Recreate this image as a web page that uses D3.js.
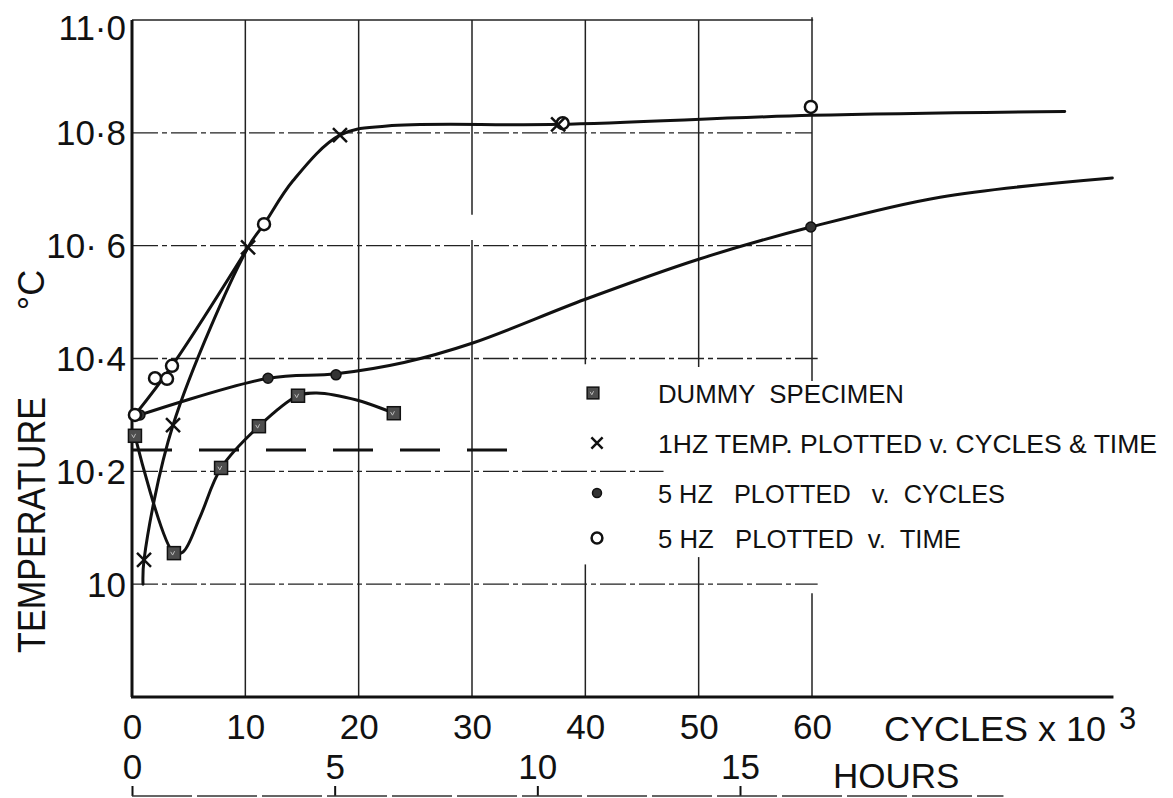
<!DOCTYPE html>
<html>
<head>
<meta charset="utf-8">
<script src="https://cdn.jsdelivr.net/npm/d3@7"></script>
<style>
  html, body { margin: 0; padding: 0; background: #fff; }
  svg { display: block; }
  text { font-family: "Liberation Sans", Arial, sans-serif; fill: #111; }
</style>
</head>
<body>
<svg id="chart" width="1173" height="798"></svg>
<script>
// Temperature of specimens under cyclic loading, plotted against cycles (x10^3) and hours.

// ---- axis ticks ----
const cycleTicks = [0, 10, 20, 30, 40, 50, 60];
const hourTicks = [0, 5, 10, 15];
const tempTicks = [10.0, 10.2, 10.4, 10.6, 10.8, 11.0];
const tempTickLabels = ["10", "10·2", "10·4", "10· 6", "10·8", "11·0"];

// ---- dummy specimen (squares) ----
const dummyCycles = [0.26, 3.7, 7.86, 11.2, 14.65, 23.1];
const dummyTemp   = [10.263, 10.055, 10.206, 10.280, 10.334, 10.303];
const dummyCurveCycles = [0.26, 3.7, 4.5, 6.0, 7.86, 11.2, 14.65, 16.3, 19.9, 23.1];
const dummyCurveTemp   = [10.263, 10.055, 10.057, 10.119, 10.206, 10.280, 10.334, 10.339, 10.326, 10.303];
// dummy reference level (dashed)
const dummyLevelTemp = 10.238;
const dummyLevelCycles = [0, 34.4];

// ---- 1 Hz, plotted v. cycles & time (crosses) ----
const hz1Cycles = [1.06, 3.62, 10.24, 18.35, 37.6];
const hz1Temp   = [10.043, 10.282, 10.597, 10.796, 10.815];
const hz1CurveCycles = [0.97, 1.06, 3.62, 10.24, 11.65, 14.2, 18.35, 22.5, 37.6, 60.0, 82.3];
const hz1CurveTemp   = [10.0, 10.043, 10.282, 10.597, 10.638, 10.715, 10.796, 10.812, 10.815, 10.831, 10.838];

// ---- 5 Hz, plotted v. cycles (dots) ----
const hz5cCycles = [0.7, 12.0, 18.0, 59.9];
const hz5cTemp   = [10.30, 10.365, 10.371, 10.633];
const hz5cCurveCycles = [0.7, 12.0, 18.0, 24.0, 30.0, 40.0, 50.0, 59.9, 71.3, 86.5];
const hz5cCurveTemp   = [10.30, 10.365, 10.373, 10.393, 10.427, 10.505, 10.576, 10.633, 10.686, 10.72];

// ---- 5 Hz, plotted v. time (open circles) ----
const hz5tCycles = [0.26, 2.03, 3.09, 3.53, 11.65, 38.0, 59.9];
const hz5tTemp   = [10.30, 10.365, 10.364, 10.387, 10.638, 10.817, 10.846];
const hz5tCurveCycles = [0.26, 3.53, 10.24];
const hz5tCurveTemp   = [10.30, 10.387, 10.597];

// ---- legend ----
const legendLabels = [
  "DUMMY  SPECIMEN",
  "1HZ TEMP. PLOTTED v. CYCLES & TIME",
  "5 HZ   PLOTTED   v.  CYCLES",
  "5 HZ   PLOTTED  v.  TIME"
];
const legendSymbols = ["square", "cross", "dot", "circle"];

// ---------------------------------------------------------------
const zip = (xs, ys) => xs.map((v, i) => [v, ys[i]]);

const svg = d3.select("#chart");
svg.append("rect").attr("width", 1173).attr("height", 798).attr("fill", "#fff");

const x = d3.scaleLinear().domain([0, 60]).range([132, 812]);
const y = d3.scaleLinear().domain([9.8, 11.0]).range([697, 20]);
const h = d3.scaleLinear().domain([0, 15]).range([132, 740]);

const ink = "#111";
const fontFamily = '"Liberation Sans", Arial, sans-serif';

// ---- grid ----
const grid = svg.append("g").attr("stroke", "#222").attr("fill", "none");

// vertical grid segments [cycles, fromTemp, toTemp]
const vSegments = [
  [10, 9.8, 11.0], [20, 9.8, 11.0],
  [30, 9.8, 10.61], [30, 10.655, 11.0],
  [40, 9.8, 10.035], [40, 10.39, 11.0],
  [50, 9.8, 10.048], [50, 10.385, 11.0],
  [60, 9.8, 9.984], [60, 10.36, 11.005]
];
grid.selectAll("line.v").data(vSegments).join("line")
  .attr("class", "v")
  .attr("x1", d => x(d[0])).attr("x2", d => x(d[0]))
  .attr("y1", d => y(d[1])).attr("y2", d => y(d[2]))
  .attr("stroke-width", 1.5);

// horizontal grid segments [temp, toCycles]
const hSegments = [[10.0, 60.5], [10.2, 46.9], [10.4, 60.5], [10.6, 60], [10.8, 60]];
grid.selectAll("line.h").data(hSegments).join("line")
  .attr("class", "h")
  .attr("x1", x(0)).attr("x2", d => x(d[1]))
  .attr("y1", d => y(d[0])).attr("y2", d => y(d[0]))
  .attr("stroke-width", 1.3)
  .attr("stroke-dasharray", "26,4,5,4");

// top border
grid.append("line")
  .attr("x1", x(0)).attr("x2", x(60.1))
  .attr("y1", y(11.0)).attr("y2", y(11.0))
  .attr("stroke-width", 1.5);

// ---- main axes lines ----
svg.append("line")
  .attr("x1", x(0)).attr("x2", x(0))
  .attr("y1", y(9.8)).attr("y2", y(11.0))
  .attr("stroke", ink).attr("stroke-width", 3);
svg.append("line")
  .attr("x1", x(0) - 1).attr("x2", x(86.6))
  .attr("y1", y(9.8)).attr("y2", y(9.8))
  .attr("stroke", ink).attr("stroke-width", 3);

// ---- dummy reference level ----
svg.append("line")
  .attr("x1", x(dummyLevelCycles[0])).attr("x2", x(dummyLevelCycles[1]))
  .attr("y1", y(dummyLevelTemp)).attr("y2", y(dummyLevelTemp))
  .attr("stroke", ink).attr("stroke-width", 3)
  .attr("stroke-dasharray", "40,27");

// ---- curves ----
const line = d3.line()
  .x(d => x(d[0])).y(d => y(d[1]))
  .curve(d3.curveCatmullRom.alpha(0.5));

const curves = [
  zip(dummyCurveCycles, dummyCurveTemp),
  zip(hz1CurveCycles, hz1CurveTemp),
  zip(hz5cCurveCycles, hz5cCurveTemp),
  zip(hz5tCurveCycles, hz5tCurveTemp)
];
svg.append("g").selectAll("path").data(curves).join("path")
  .attr("d", line)
  .attr("fill", "none")
  .attr("stroke", ink)
  .attr("stroke-width", 3)
  .attr("stroke-linecap", "round")
  .attr("stroke-linejoin", "round");

// ---- markers ----
function drawSymbol(g, kind, cx, cy, scale) {
  const s = scale || 1;
  if (kind === "square") {
    const a = 13 * s;
    g.append("rect")
      .attr("x", cx - a / 2).attr("y", cy - a / 2)
      .attr("width", a).attr("height", a)
      .attr("fill", "#4d4d4d").attr("stroke", ink).attr("stroke-width", 1.5);
    g.append("path")
      .attr("d", `M${cx - a * 0.25},${cy - a * 0.1}l${a * 0.15},${a * 0.25}l${a * 0.15},-${a * 0.3}`)
      .attr("fill", "none").attr("stroke", "#bbb").attr("stroke-width", 1);
  } else if (kind === "cross") {
    const r = 7 * s;
    g.append("path")
      .attr("d", `M${cx - r},${cy - r}L${cx + r},${cy + r}M${cx - r},${cy + r}L${cx + r},${cy - r}`)
      .attr("stroke", ink).attr("stroke-width", 2.5 * Math.max(1, s * 0.9)).attr("fill", "none");
  } else if (kind === "dot") {
    g.append("circle").attr("cx", cx).attr("cy", cy).attr("r", 5 * s)
      .attr("fill", "#333").attr("stroke", ink).attr("stroke-width", 1.5);
  } else if (kind === "circle") {
    g.append("circle").attr("cx", cx).attr("cy", cy).attr("r", 6 * s)
      .attr("fill", "#fff").attr("stroke", ink).attr("stroke-width", 2.5);
  }
}

const marks = svg.append("g");
zip(dummyCycles, dummyTemp).forEach(d => drawSymbol(marks, "square", x(d[0]), y(d[1])));
zip(hz5cCycles, hz5cTemp).forEach(d => drawSymbol(marks, "dot", x(d[0]), y(d[1])));
zip(hz5tCycles, hz5tTemp).forEach(d => drawSymbol(marks, "circle", x(d[0]), y(d[1])));
zip(hz1Cycles, hz1Temp).forEach(d => drawSymbol(marks, "cross", x(d[0]), y(d[1])));

// ---- tick labels ----
const yAxis = svg.append("g")
  .attr("transform", `translate(${x(0)},0)`)
  .call(d3.axisLeft(y).tickValues(tempTicks)
    .tickFormat((d, i) => tempTickLabels[i]).tickSize(0).tickPadding(6));
yAxis.select(".domain").remove();
yAxis.selectAll("text")
  .attr("font-size", 35).attr("fill", ink)
  .style("font-family", fontFamily)
  .attr("dy", d => d === 11.0 ? "0.55em" : "0.34em");

const xAxis = svg.append("g")
  .attr("transform", `translate(0,${y(9.8)})`)
  .call(d3.axisBottom(x).tickValues(cycleTicks)
    .tickFormat(d3.format("d")).tickSize(0).tickPadding(17));
xAxis.select(".domain").remove();
xAxis.selectAll("text")
  .attr("font-size", 35).attr("fill", ink)
  .style("font-family", fontFamily);

const hAxis = svg.append("g")
  .attr("transform", "translate(0,796)")
  .call(d3.axisTop(h).tickValues(hourTicks)
    .tickFormat(d3.format("d")).tickSize(10).tickSizeOuter(0).tickPadding(7));
hAxis.select(".domain").remove();
hAxis.selectAll(".tick line").attr("stroke", ink).attr("stroke-width", 2);
hAxis.selectAll("text")
  .attr("font-size", 35).attr("fill", ink)
  .style("font-family", fontFamily);
hAxis.append("line")
  .attr("x1", h(0)).attr("x2", h(21.5)).attr("y1", 0).attr("y2", 0)
  .attr("stroke", "#333").attr("stroke-width", 1.6)
  .attr("stroke-dasharray", "60,5");

// ---- axis titles ----
svg.append("text").attr("x", 884).attr("y", 741).attr("font-size", 35)
  .attr("textLength", 222).attr("lengthAdjust", "spacingAndGlyphs")
  .text("CYCLES x 10");
svg.append("text").attr("x", 1119).attr("y", 729).attr("font-size", 31).text("3");

svg.append("text").attr("x", 833).attr("y", 788).attr("font-size", 35).text("HOURS");

svg.append("text")
  .attr("transform", "translate(45,525) rotate(-90)")
  .attr("text-anchor", "middle")
  .attr("font-size", 38)
  .attr("textLength", 256).attr("lengthAdjust", "spacingAndGlyphs")
  .text("TEMPERATURE");

svg.append("text")
  .attr("transform", "translate(44,290) rotate(-90)")
  .attr("text-anchor", "middle")
  .attr("font-size", 36)
  .text("°C");

// ---- legend ----
const legendRowY = [393, 443, 493, 538];
const legendTextWidth = [246, 499, 347, 303];
const legend = svg.append("g");
legendLabels.forEach((label, i) => {
  drawSymbol(legend, legendSymbols[i], i === 0 ? 593 : 597, legendRowY[i], i === 1 ? 0.8 : 0.9);
  legend.append("text")
    .attr("x", 658).attr("y", legendRowY[i] + 10)
    .attr("font-size", 26)
    .attr("textLength", legendTextWidth[i]).attr("lengthAdjust", "spacingAndGlyphs")
    .style("white-space", "pre")
    .text(label);
});
</script>
</body>
</html>
